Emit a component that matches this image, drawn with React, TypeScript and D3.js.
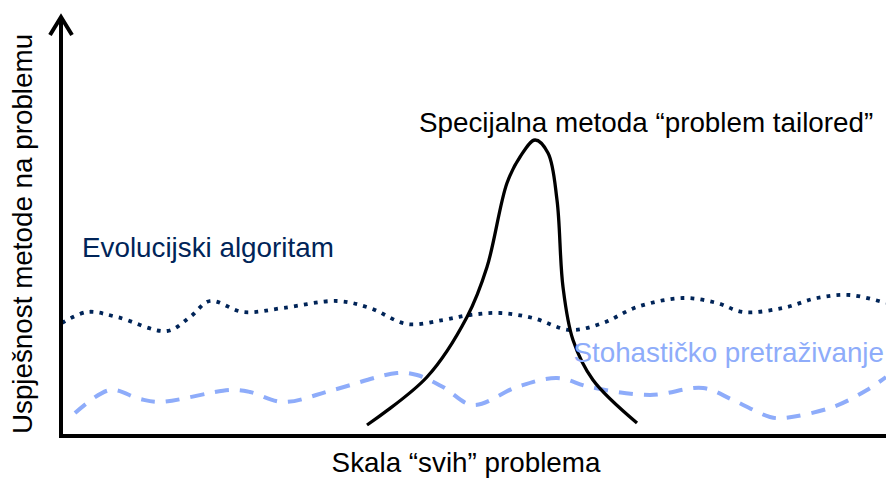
import React from "react";
import * as d3 from "d3";

const evolX = [1, 26, 56, 106, 129, 149, 182, 222, 276, 309, 346, 382, 409, 439, 472, 509, 542, 576, 622, 656, 682, 722, 756, 789, 825];
const evolY = [113, 124, 119, 105, 119, 135, 124, 128, 135, 128, 112, 116, 121, 123, 118, 106, 113, 129, 138, 133, 124, 128, 138, 141, 133];

const stohX = [14, 49, 79, 99, 169, 189, 222, 272, 336, 356, 382, 412, 456, 496, 529, 589, 642, 672, 709, 722, 772, 806, 825];
const stohY = [23, 46, 37, 34, 46, 44, 34, 46, 63, 61, 49, 31, 49, 58, 49, 41, 48, 36, 19, 18, 29, 46, 59];

const peakX = [306, 366, 406, 426, 446, 459, 474, 487, 496, 502, 512, 532, 576];
const peakY = [11, 59, 119, 169, 253, 279, 296, 283, 236, 149, 96, 56, 13];

const labels = {
  special: "Specijalna metoda “problem tailored”",
  evol: "Evolucijski algoritam",
  stoh: "Stohastičko pretraživanje",
  xAxis: "Skala “svih” problema",
  yAxis: "Uspješnost metode na problemu",
};

const W = 886;
const H = 481;
const x = d3.scaleLinear().domain([0, 825]).range([61, 886]);
const y = d3.scaleLinear().domain([0, 420]).range([436, 16]);

const line = d3
  .line<[number, number]>()
  .x((d) => x(d[0]))
  .y((d) => y(d[1]))
  .curve(d3.curveCatmullRom.alpha(0.5));

const zip = (a: number[], b: number[]) => a.map((v, i) => [v, b[i]] as [number, number]);

const font = "Liberation Sans, Arial, sans-serif";
const fs = 27.8;

export default function App() {
  const x0 = x(0);
  const y0 = y(0);
  const yTop = y(420);
  return (
    <svg width={W} height={H} style={{ position: "absolute", left: 0, top: 0 }}>
      <rect width={W} height={H} fill="#fff" />
      <path d={line(zip(stohX, stohY)) || ""} fill="none" stroke="#8eacfa" strokeWidth={4} strokeDasharray="14,11" />
      <path d={line(zip(evolX, evolY)) || ""} fill="none" stroke="#002458" strokeWidth={3.8} strokeDasharray="3.8,6.2" />
      <path d={line(zip(peakX, peakY)) || ""} fill="none" stroke="#000" strokeWidth={3.3} />
      <line x1={x0} y1={y0} x2={x0} y2={yTop + 2} stroke="#000" strokeWidth={4} />
      <line x1={x0 - 2} y1={y0} x2={W} y2={y0} stroke="#000" strokeWidth={4} />
      <polyline
        points={`${x0 - 11},${yTop + 19} ${x0},${yTop + 1} ${x0 + 11},${yTop + 19}`}
        fill="none"
        stroke="#000"
        strokeWidth={4}
        strokeLinejoin="miter"
      />
      <text x={419} y={132} fontFamily={font} fontSize={fs} fill="#000">{labels.special}</text>
      <text x={82} y={257} fontFamily={font} fontSize={fs} fill="#002458">{labels.evol}</text>
      <text x={884} y={362} fontFamily={font} fontSize={fs} fill="#8eacfa" textAnchor="end">{labels.stoh}</text>
      <text x={466} y={472} fontFamily={font} fontSize={fs} fill="#000" textAnchor="middle">{labels.xAxis}</text>
      <text
        transform={`translate(32,234) rotate(-90)`}
        fontFamily={font}
        fontSize={fs}
        fill="#000"
        textAnchor="middle"
      >
        {labels.yAxis}
      </text>
    </svg>
  );
}
